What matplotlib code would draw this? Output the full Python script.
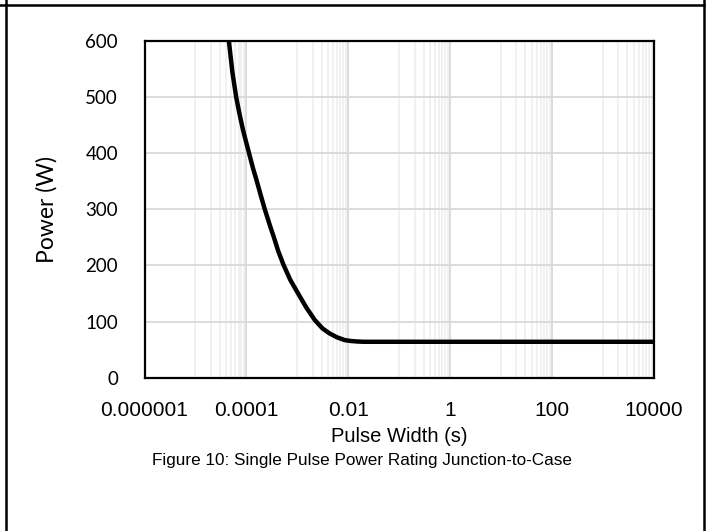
import matplotlib
matplotlib.use('Agg')
import matplotlib.pyplot as plt
from matplotlib.lines import Line2D
from matplotlib.ticker import NullFormatter

# Values
pulse_width = [4.0e-5, 4.53e-5, 5.3e-5, 6.3e-5, 7.4e-5, 8.5e-5, 1.0e-4,
               1.12e-4, 1.35e-4, 1.57e-4, 1.9e-4, 2.28e-4, 2.9e-4, 3.5e-4,
               4.2e-4, 5.3e-4, 7.2e-4, 1.02e-3, 1.5e-3, 2.19e-3, 3.1e-3,
               4.27e-3, 6.0e-3, 8.5e-3, 1.1e-2, 1.5e-2, 2.0e-2, 1.0e4]
power = [660, 600, 545, 500, 468, 443, 418, 401, 373, 353, 326, 301, 271,
         249, 226, 202, 175, 151, 125, 103, 88, 79, 72, 67, 65.5, 64.5, 64,
         64]

x_ticks = [1e-6, 1e-4, 1e-2, 1, 100, 10000]
x_tick_labels = ['0.000001', '0.0001', '0.01', '1', '100', '10000']
y_ticks = [0, 100, 200, 300, 400, 500, 600]

W, H = 711, 531
fig = plt.figure(figsize=(W / 100, H / 100), dpi=100)
ax = fig.add_axes([144.5 / W, 1 - 377.7 / H, 509.5 / W, 336.7 / H])

# minor gridlines at 1..9 x 10^odd, majors every two decades
minor = [k * 10.0 ** e for e in (-5, -3, -1, 1, 3) for k in range(1, 10)]
ax.set_xscale('log')
ax.set_xlim(1e-6, 1e4)
ax.set_ylim(0, 600)
ax.set_xticks(minor, minor=True)
ax.xaxis.set_minor_formatter(NullFormatter())
ax.set_xticks(x_ticks)
ax.set_xticklabels(x_tick_labels, family='Liberation Sans', fontsize=15)
ax.set_yticks(y_ticks)
ax.set_yticklabels([str(v) for v in y_ticks], family='Lato', fontsize=13.5)
ax.tick_params(which='both', length=0)
ax.tick_params(axis='x', pad=17)
ax.tick_params(axis='y', pad=19)

ax.grid(which='minor', axis='x', color='#f0f0f0', lw=1.3)
ax.grid(which='major', axis='x', color='#d9d9d9', lw=1.3)
ax.grid(which='major', axis='y', color='#d9d9d9', lw=1.3)
ax.set_axisbelow(True)
for s in ax.spines.values():
    s.set_linewidth(1.6)
    s.set_color('black')

ax.plot(pulse_width, power, color='black', lw=3.2, solid_joinstyle='round')

ax.set_ylabel('Power (W)', family='Lato', fontsize=16.5, labelpad=20)
ax.set_xlabel('Pulse Width (s)', family='Liberation Sans', fontsize=14.5,
              labelpad=5)
fig.text(362 / W, 1 - 460 / H,
         'Figure 10: Single Pulse Power Rating Junction-to-Case',
         family='Liberation Sans', fontsize=12.3, ha='center', va='center')

# frame around the figure
for xs, ys in [([6.3, 6.3], [0, H]), ([0, 704.3], [4.7, 4.7]),
               ([704.3, 704.3], [0, H])]:
    fig.add_artist(Line2D([x / W for x in xs], [1 - y / H for y in ys],
                          transform=fig.transFigure, color='black', lw=1.8))

fig.savefig('out.png', dpi=100)
